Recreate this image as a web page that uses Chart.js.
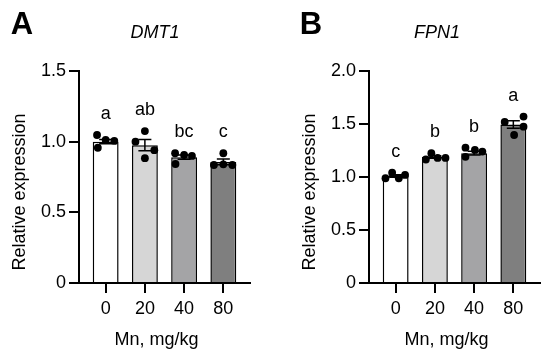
<!DOCTYPE html>
<html lang="en">
<head>
  <meta charset="UTF-8" />
  <title>DMT1 / FPN1 relative expression</title>
  <script src="https://cdn.jsdelivr.net/npm/chart.js"></script>
  <style>
    body { margin: 0; background: #fff; }
    .panel { position: absolute; top: 0; }
  </style>
</head>
<body>
  <canvas id="chartA" class="panel" style="left:0" width="275" height="358"></canvas>
  <canvas id="chartB" class="panel" style="left:275px" width="275" height="358"></canvas>

  <script>
    // Mn dose groups (mg/kg)
    const doses = ['0', '20', '40', '80'];
    const barColors = ['#ffffff', '#d6d6d6', '#a4a4a6', '#7f7f7f'];

    // Panel A: DMT1
    const meansA = [1.0, 0.975, 0.89, 0.857];
    const semA = [0.015, 0.04, 0.015, 0.02];
    const dotsA0 = [1.047, 0.957, 1.012, 1.005];
    const dotsA1 = [1.0, 1.075, 0.883, 0.94];
    const dotsA2 = [0.918, 0.842, 0.906, 0.899];
    const dotsA3 = [0.835, 0.918, 0.84, 0.835];
    const jitterA = [[-0.22, -0.2, 0, 0.22], [-0.24, 0, 0, 0.24], [-0.23, -0.22, 0, 0.2], [-0.24, 0, 0, 0.23]];
    const lettersA = ['a', 'ab', 'bc', 'c'];

    // Panel B: FPN1
    const meansB = [1.01, 1.188, 1.225, 1.495];
    const semB = [0.012, 0.012, 0.017, 0.035];
    const dotsB0 = [0.988, 1.04, 0.988, 1.02];
    const dotsB1 = [1.165, 1.225, 1.18, 1.18];
    const dotsB2 = [1.277, 1.19, 1.255, 1.24];
    const dotsB3 = [1.52, 1.57, 1.475, 1.396];
    const jitterB = [[-0.26, -0.09, 0.08, 0.24], [-0.23, -0.09, 0.07, 0.27], [-0.22, -0.22, 0.02, 0.21], [-0.22, 0.26, 0.26, 0.02]];
    const lettersB = ['c', 'b', 'b', 'a'];

    const FONT = "'Liberation Sans', Arial, sans-serif";

    // error bars + significance letters
    const extrasPlugin = {
      id: 'extras',
      afterDatasetsDraw(chart, args, opts) {
        const { ctx, scales: { x, y } } = chart;
        ctx.save();
        ctx.strokeStyle = '#000';
        ctx.lineWidth = 1.5;
        opts.means.forEach((m, i) => {
          const px = x.getPixelForValue(i);
          const top = y.getPixelForValue(m + opts.sem[i]);
          const bot = y.getPixelForValue(m - opts.sem[i]);
          ctx.beginPath();
          ctx.moveTo(px, top); ctx.lineTo(px, bot);
          ctx.moveTo(px - 6.5, top); ctx.lineTo(px + 6.5, top);
          ctx.moveTo(px - 6.5, bot); ctx.lineTo(px + 6.5, bot);
          ctx.stroke();
          const peak = Math.max(...opts.dots[i], m + opts.sem[i]);
          ctx.fillStyle = '#000';
          ctx.font = '18px ' + FONT;
          ctx.textAlign = 'center';
          ctx.textBaseline = 'middle';
          ctx.fillText(opts.letters[i], px, y.getPixelForValue(peak) - 21);
        });
        ctx.restore();
      }
    };

    // panel label, gene title and axis titles
    const labelsPlugin = {
      id: 'labels',
      afterDraw(chart, args, opts) {
        const { ctx, chartArea: a } = chart;
        ctx.save();
        ctx.fillStyle = '#000';
        ctx.textAlign = 'center';
        ctx.textBaseline = 'middle';
        ctx.font = 'bold 31px ' + FONT;
        ctx.fillText(opts.panel, opts.panelX, 25);
        ctx.font = 'italic 18px ' + FONT;
        ctx.fillText(opts.gene, opts.geneX, 33);
        ctx.font = '18px ' + FONT;
        ctx.fillText('Mn, mg/kg', (a.left + a.right) / 2 - 8, 340);
        ctx.translate(a.left - 59, 192);
        ctx.rotate(-Math.PI / 2);
        ctx.fillText('Relative expression', 0, 0);
        ctx.restore();
      }
    };

    function makePanel(id, p) {
      const barData = p.means.map((m, i) => ({ x: i, y: m }));
      const dotData = [];
      p.dots.forEach((vals, i) => vals.forEach((v, k) => dotData.push({ x: i + p.jitter[i][k], y: v })));

      return new Chart(document.getElementById(id), {
        data: {
          datasets: [
            {
              type: 'bar',
              data: barData,
              backgroundColor: barColors,
              borderColor: '#000',
              borderWidth: 1.5,
              barPercentage: 0.66,
              categoryPercentage: 1,
              order: 2
            },
            {
              type: 'scatter',
              data: dotData,
              pointRadius: 3.9,
              pointBackgroundColor: '#000',
              pointBorderWidth: 0,
              order: 1
            }
          ]
        },
        options: {
          responsive: false,
          animation: false,
          devicePixelRatio: 1,
          layout: { padding: { top: 71, right: p.padRight, left: 0, bottom: 0 } },
          plugins: {
            legend: { display: false },
            tooltip: { enabled: false },
            extras: { means: p.means, sem: p.sem, dots: p.dots, letters: p.letters },
            labels: { panel: p.panel, panelX: p.panelX, gene: p.gene, geneX: p.geneX }
          },
          scales: {
            x: {
              type: 'linear',
              min: -0.68,
              max: 3.68,
              offset: false,
              afterBuildTicks: s => { s.ticks = doses.map((d, i) => ({ value: i })); },
              afterFit: s => { s.height = 75; },
              ticks: {
                callback: v => doses[v],
                color: '#000',
                font: { size: 18, family: FONT },
                padding: 5,
                maxRotation: 0
              },
              grid: { drawOnChartArea: false, offset: false, color: '#000', lineWidth: 2, tickLength: 10 },
              border: { color: '#000', width: 2 }
            },
            y: {
              min: 0,
              max: p.yMax,
              afterBuildTicks: s => {
                const t = [];
                for (let v = 0; v <= p.yMax + 1e-9; v += 0.5) t.push({ value: v });
                s.ticks = t;
              },
              afterFit: s => { s.width = p.axisLeft; },
              ticks: {
                callback: v => (v === 0 ? '0' : v.toFixed(1)),
                color: '#000',
                font: { size: 18, family: FONT },
                padding: 3
              },
              grid: { drawOnChartArea: false, color: '#000', lineWidth: 2, tickLength: 10 },
              border: { color: '#000', width: 2 }
            }
          }
        },
        plugins: [extrasPlugin, labelsPlugin]
      });
    }

    makePanel('chartA', {
      means: meansA, sem: semA, dots: [dotsA0, dotsA1, dotsA2, dotsA3], jitter: jitterA, letters: lettersA,
      yMax: 1.5, axisLeft: 79, padRight: 25, panel: 'A', panelX: 22, gene: 'DMT1', geneX: 155
    });
    makePanel('chartB', {
      means: meansB, sem: semB, dots: [dotsB0, dotsB1, dotsB2, dotsB3], jitter: jitterB, letters: lettersB,
      yMax: 2.0, axisLeft: 94, padRight: 10, panel: 'B', panelX: 36, gene: 'FPN1', geneX: 162
    });
  </script>
</body>
</html>
